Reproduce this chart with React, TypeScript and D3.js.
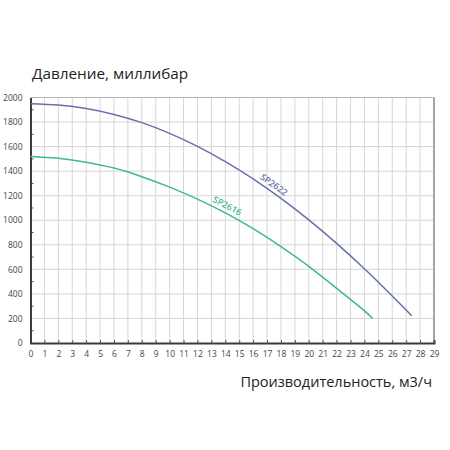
import { useRef, useEffect } from 'react';
import * as d3 from 'd3';

// flow, m3/h and pressure, mbar
const sp2622Flow = [0, 2, 4, 6, 8, 10, 12, 14, 16, 18, 20, 22, 24, 26, 27.4];
const sp2622Pressure = [1950, 1938, 1910, 1862, 1795, 1708, 1602, 1478, 1337, 1178, 1003, 812, 605, 383, 222];
const sp2616Flow = [0, 2, 4, 6, 8, 10, 12, 14, 16, 18, 20, 22, 24, 24.6];
const sp2616Pressure = [1520, 1505, 1473, 1425, 1355, 1270, 1172, 1060, 932, 785, 625, 445, 262, 200];

const xTicks = d3.range(0, 30);
const yTicks = d3.range(0, 2001, 200);
const yMinorTicks = d3.range(100, 2000, 200);

const yTitle = 'Давление, миллибар';
const xTitle = 'Производительность, м3/ч';

const series = [
  { name: 'SP2622', flow: sp2622Flow, pressure: sp2622Pressure, color: '#6670ad', labelAt: 17.2 },
  { name: 'SP2616', flow: sp2616Flow, pressure: sp2616Pressure, color: '#3fb98a', labelAt: 13.9 },
];

export default function App() {
  const svgRef = useRef<SVGSVGElement | null>(null);

  useEffect(() => {
    if (!svgRef.current) return;
    const svg = d3.select(svgRef.current);
    svg.selectAll('*').remove();

    const margin = { top: 97.5, left: 30.5, right: 16, bottom: 107 };
    const width = 450;
    const height = 450;
    const innerWidth = width - margin.left - margin.right;
    const innerHeight = height - margin.top - margin.bottom;
    const font = '"Open Sans", "Noto Sans", sans-serif';

    const x = d3.scaleLinear().domain([0, 29]).range([0, innerWidth]);
    const y = d3.scaleLinear().domain([0, 2000]).range([innerHeight, 0]);

    svg.append('rect').attr('width', width).attr('height', height).attr('fill', '#fff');

    const g = svg.append('g').attr('transform', `translate(${margin.left},${margin.top})`);

    // grid
    g.append('g')
      .selectAll('line')
      .data(xTicks.slice(1))
      .enter()
      .append('line')
      .attr('x1', d => x(d))
      .attr('x2', d => x(d))
      .attr('y1', 0)
      .attr('y2', innerHeight)
      .attr('stroke', '#d6d6d6')
      .attr('stroke-width', 1);

    g.append('g')
      .selectAll('line')
      .data(yTicks.slice(1))
      .enter()
      .append('line')
      .attr('x1', 0)
      .attr('x2', innerWidth)
      .attr('y1', d => y(d))
      .attr('y2', d => y(d))
      .attr('stroke', '#d6d6d6')
      .attr('stroke-width', 1);

    // frame right & top
    g.append('line')
      .attr('x1', x(29)).attr('x2', x(29))
      .attr('y1', y(2000)).attr('y2', y(0))
      .attr('stroke', '#8f8f8f').attr('stroke-width', 1.5);
    g.append('line')
      .attr('x1', 0).attr('x2', x(29))
      .attr('y1', y(2000)).attr('y2', y(2000))
      .attr('stroke', '#b5b5b5').attr('stroke-width', 1.2);

    // minor ticks on left axis
    g.append('g')
      .selectAll('line')
      .data(yMinorTicks)
      .enter()
      .append('line')
      .attr('x1', 0).attr('x2', 3)
      .attr('y1', d => y(d)).attr('y2', d => y(d))
      .attr('stroke', '#555').attr('stroke-width', 1);

    // axes
    const xAxis = g.append('g')
      .attr('transform', `translate(0,${innerHeight})`)
      .call(d3.axisBottom(x).tickValues(xTicks).tickSize(-3).tickPadding(8).tickFormat(d3.format('d')));
    xAxis.select('.domain').attr('stroke', '#3a3a3a').attr('stroke-width', 2);
    xAxis.selectAll('.tick line').attr('stroke', '#555');
    xAxis.selectAll('text')
      .attr('font-family', font)
      .attr('font-size', 8.5)
      .attr('fill', '#444');

    const yAxis = g.append('g')
      .call(d3.axisLeft(y).tickValues(yTicks).tickSize(0).tickPadding(8).tickFormat(d3.format('d')));
    yAxis.select('.domain').attr('stroke', '#3a3a3a').attr('stroke-width', 2);
    yAxis.selectAll('text')
      .attr('font-family', font)
      .attr('font-size', 8.5)
      .attr('fill', '#444');

    // curves
    const line = d3.line<[number, number]>()
      .x(d => x(d[0]))
      .y(d => y(d[1]))
      .curve(d3.curveCatmullRom.alpha(0.5));

    series.forEach(s => {
      const pts: [number, number][] = s.flow.map((f, i) => [f, s.pressure[i]]);
      g.append('path')
        .datum(pts)
        .attr('d', line)
        .attr('fill', 'none')
        .attr('stroke', s.color)
        .attr('stroke-width', 1.5);

      // label rotated along the curve
      const interp = (f: number) => {
        const i = d3.bisectRight(s.flow, f) - 1;
        const t = (f - s.flow[i]) / (s.flow[i + 1] - s.flow[i]);
        return s.pressure[i] + t * (s.pressure[i + 1] - s.pressure[i]);
      };
      const f0 = s.labelAt - 0.8;
      const f1 = s.labelAt + 0.8;
      const angle = Math.atan2(y(interp(f1)) - y(interp(f0)), x(f1) - x(f0)) * 180 / Math.PI;
      g.append('text')
        .attr('transform', `translate(${x(s.labelAt)},${y(interp(s.labelAt))}) rotate(${angle})`)
        .attr('dy', -4)
        .attr('text-anchor', 'middle')
        .attr('font-family', font)
        .attr('font-size', 9)
        .attr('font-weight', 600)
        .attr('fill', s.color)
        .text(s.name);
    });

    // titles
    svg.append('text')
      .attr('x', 32)
      .attr('y', 79)
      .attr('font-family', font)
      .attr('font-size', 15.3)
      .attr('fill', '#222')
      .text(yTitle);

    svg.append('text')
      .attr('x', 432)
      .attr('y', 387)
      .attr('text-anchor', 'end')
      .attr('font-family', font)
      .attr('font-size', 14.5)
      .attr('fill', '#222')
      .text(xTitle);
  }, []);

  return (
    <svg
      ref={svgRef}
      width={450}
      height={450}
      style={{ position: 'absolute', left: 0, top: 0 }}
    />
  );
}
